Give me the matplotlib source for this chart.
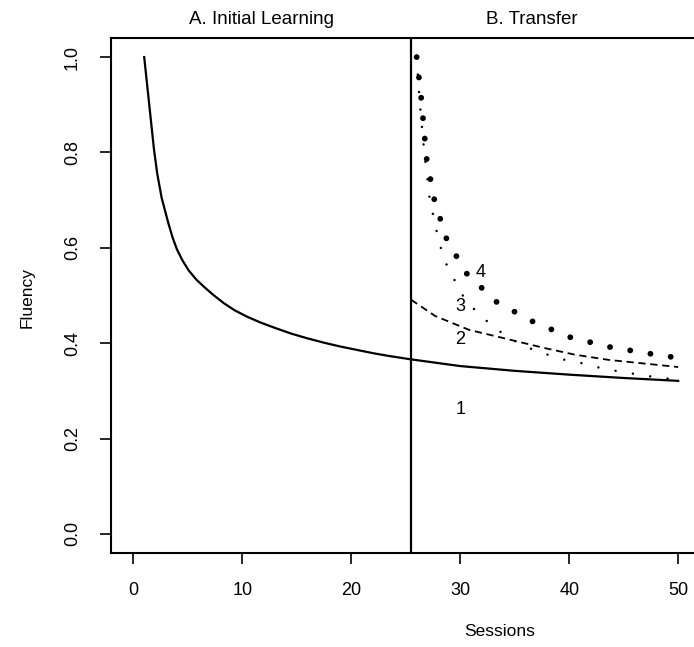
import matplotlib
matplotlib.use("Agg")
import matplotlib.pyplot as plt
import matplotlib.transforms as mtransforms

plt.rcParams['font.family'] = ['Liberation Sans', 'DejaVu Sans']

# panel A: initial learning (curve 1)
learn_x = [1, 1.9, 2.2, 2.6, 3.2, 3.6, 4.0, 4.5, 5.1, 5.8, 6.5, 7.3, 8.3, 9.3,
           10.4, 11.6, 13.0, 14.5, 16.0, 17.5, 19.0, 20.5, 22.0, 23.5, 25.5]
learn_y = [1.0, 0.806, 0.755, 0.705, 0.653, 0.622, 0.597, 0.574, 0.552, 0.533,
           0.518, 0.502, 0.484, 0.469, 0.456, 0.444, 0.432, 0.420, 0.410,
           0.401, 0.393, 0.386, 0.379, 0.373, 0.366]

# panel B: transfer curves 1-4
t1_x = [25.5, 30, 35, 40, 45, 50]
t1_y = [0.366, 0.352, 0.342, 0.334, 0.327, 0.321]

t2_x = [25.5, 27.7, 30.8, 33.9, 37.7, 40.5, 43.6, 46.6, 50]
t2_y = [0.491, 0.457, 0.428, 0.411, 0.390, 0.376, 0.365, 0.358, 0.350]

t3_x = [26, 26.3, 26.7, 27.2, 27.6, 28.0, 28.5, 29.3, 30.2, 31.4, 32.8, 34.5,
        37, 39.6, 41.4, 43.2, 45.1, 46.9, 50]
t3_y = [1.0, 0.9, 0.8, 0.702, 0.659, 0.618, 0.576, 0.540, 0.501, 0.468, 0.439,
        0.41, 0.383, 0.365, 0.357, 0.346, 0.339, 0.332, 0.323]

t4_x = [26, 26.4, 26.9, 27.6, 28.7, 30.5, 33.3, 36.5, 40, 43.7, 47.4, 50]
t4_y = [1.0, 0.919, 0.789, 0.703, 0.621, 0.548, 0.487, 0.447, 0.413, 0.392,
        0.378, 0.369]

curve_labels = ['1', '2', '3', '4']
label_x = [30.0, 30.0, 30.0, 31.9]
label_y = [0.26, 0.407, 0.476, 0.549]

split_x = 25.5
xticks = [0, 10, 20, 30, 40, 50]
yticks = [0.0, 0.2, 0.4, 0.6, 0.8, 1.0]

fig = plt.figure(figsize=(6.94, 6.47), dpi=100)
ax = fig.add_axes([111.5 / 694, 94 / 647, 588.5 / 694, 515 / 647])

ax.plot(learn_x, learn_y, color='black', lw=1.6, solid_joinstyle='round')
ax.plot(t1_x, t1_y, color='black', lw=1.6)
ax.plot(t2_x, t2_y, color='black', lw=1.3, linestyle=(0, (4, 2.6)))
ax.plot(t3_x, t3_y, color='black', lw=1.8, linestyle=(0, (0.01, 7)),
        dash_capstyle='round')
ax.plot(t4_x, t4_y, color='black', lw=4.2, linestyle=(0, (0.01, 3.5)),
        dash_capstyle='round')
ax.axvline(split_x, color='black', lw=1.6)

for lab, lx, ly in zip(curve_labels, label_x, label_y):
    ax.text(lx, ly, lab, fontsize=13, ha='center', va='center')

ax.set_xlim(-2, 52)
ax.set_ylim(-0.04, 1.04)
ax.set_xticks(xticks)
ax.set_xticklabels([str(t) for t in xticks])
ax.set_yticks(yticks)
ax.set_yticklabels([f'{t:.1f}' for t in yticks], rotation=90, va='center')
ax.tick_params(axis='x', length=8, width=1.2, pad=13, labelsize=13)
ax.tick_params(axis='y', length=8, width=1.2, pad=14, labelsize=13)
for sp in ax.spines.values():
    sp.set_linewidth(1.5)

trans = mtransforms.blended_transform_factory(ax.transData, ax.transAxes)
ax.text(11.8, 1.035, 'A. Initial Learning', transform=trans,
        ha='center', va='center', fontsize=13.5)
ax.text(36.6, 1.035, 'B. Transfer', transform=trans,
        ha='center', va='center', fontsize=13.5)

ax.text(-0.144, 0.497, 'Fluency', transform=ax.transAxes, rotation=90,
        ha='center', va='center', fontsize=12.5)
fig.text(500 / 694, 1 - 632 / 647, 'Sessions', ha='center', va='center',
         fontsize=12.5)

fig.savefig('out.png', dpi=100)
